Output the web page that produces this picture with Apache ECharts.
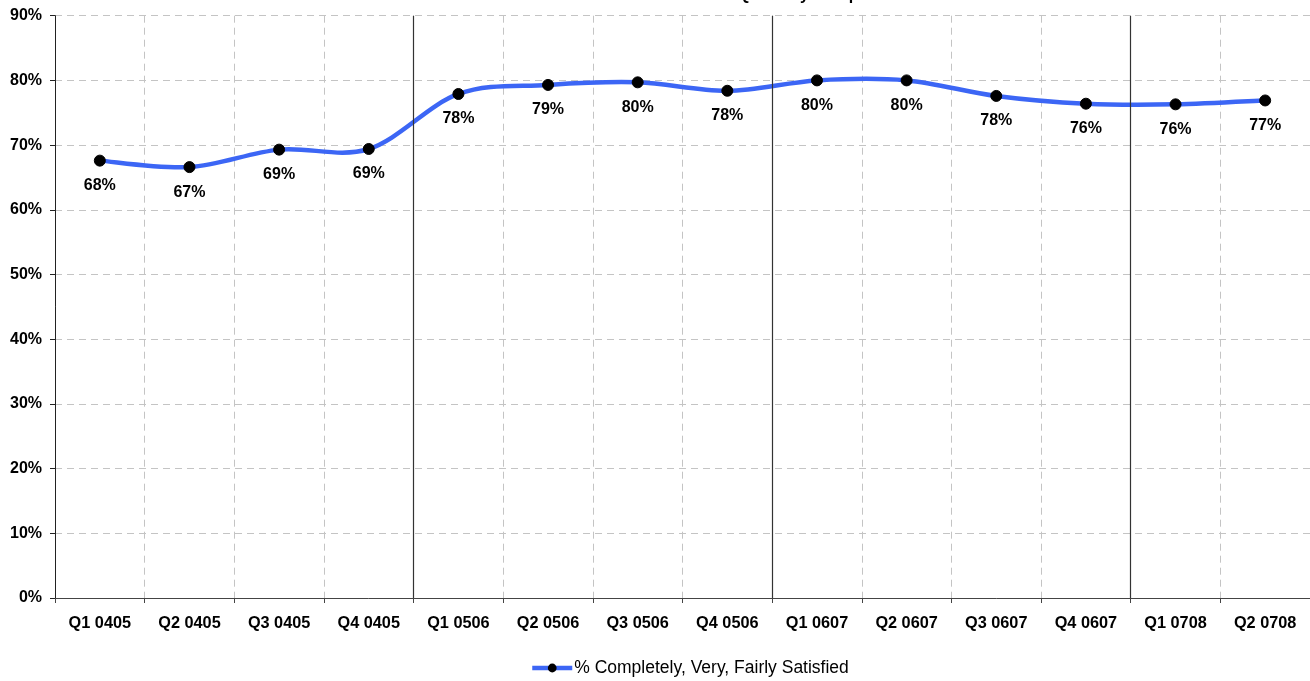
<!DOCTYPE html>
<html>
<head>
<meta charset="utf-8">
<script src="https://cdn.jsdelivr.net/npm/echarts@6/dist/echarts.min.js"></script>
<style>
html,body{margin:0;padding:0;background:#fff;}
#chart{width:1310px;height:681px;}
</style>
</head>
<body>
<div id="chart"></div>
<script>
var titleText = 'Overall Satisfaction with Service Provided - Quarterly Comparison';
var categories = ['Q1 0405','Q2 0405','Q3 0405','Q4 0405','Q1 0506','Q2 0506','Q3 0506','Q4 0506','Q1 0607','Q2 0607','Q3 0607','Q4 0607','Q1 0708','Q2 0708'];
var satisfied = [67.6, 66.6, 69.3, 69.4, 77.9, 79.3, 79.7, 78.4, 80.0, 80.0, 77.6, 76.4, 76.3, 76.9];
var seriesName = '% Completely, Very, Fairly Satisfied';
var yearDividers = [4, 8, 12];
var yTicks = [0, 10, 20, 30, 40, 50, 60, 70, 80, 90];

var chart = echarts.init(document.getElementById('chart'));
var font = 'Liberation Sans, Arial, sans-serif';
var blue = '#3c66f5';

function smoothPath(params, api) {
  if (params.dataIndex !== 0) return null;
  var pts = satisfied.map(function (v, i) { return api.coord([i, v]); });
  var n = pts.length;
  var d = 'M' + pts[0][0] + ' ' + pts[0][1];
  for (var i = 0; i < n - 1; i++) {
    var p0 = pts[Math.max(i - 1, 0)], p1 = pts[i], p2 = pts[i + 1], p3 = pts[Math.min(i + 2, n - 1)];
    var c1x = p1[0] + (p2[0] - p0[0]) / 6, c1y = p1[1] + (p2[1] - p0[1]) / 6;
    var c2x = p2[0] - (p3[0] - p1[0]) / 6, c2y = p2[1] - (p3[1] - p1[1]) / 6;
    d += ' C' + c1x + ' ' + c1y + ' ' + c2x + ' ' + c2y + ' ' + p2[0] + ' ' + p2[1];
  }
  return {
    type: 'path',
    shape: {pathData: d},
    style: {fill: 'none', stroke: blue, lineWidth: 4.5, lineJoin: 'round', lineCap: 'round'}
  };
}

chart.setOption({
  animation: false,
  title: {
    text: titleText,
    left: 'center',
    top: -17,
    textStyle: {fontFamily: font, fontSize: 16, fontWeight: 'bold', color: '#000'}
  },
  grid: {left: 55, right: 0, top: 15.7, bottom: 83},
  legend: {
    data: [seriesName],
    left: 530,
    top: 659,
    padding: 0,
    itemWidth: 40,
    itemHeight: 11,
    itemGap: 2,
    lineStyle: {color: blue, width: 4.5, opacity: 1},
    itemStyle: {color: '#000'},
    textStyle: {fontFamily: font, fontSize: 17.5, color: '#000', padding: [0,0,0,-3]}
  },
  xAxis: [{
    type: 'category',
    data: categories,
    boundaryGap: true,
    axisLine: {lineStyle: {color: '#444', width: 1}},
    axisTick: {show: true, length: 5, lineStyle: {color: '#444'}},
    axisLabel: {fontFamily: font, fontSize: 16.3, fontWeight: 'bold', color: '#000', margin: 18},
    splitLine: {show: true, lineStyle: {color: '#c4c4c4', type: [7, 5], width: 1}}
  }, {
    type: 'value',
    min: 0, max: 14,
    show: false
  }],
  yAxis: {
    type: 'value',
    min: 0, max: 90, interval: 10,
    axisLine: {show: true, lineStyle: {color: '#222', width: 1}},
    axisTick: {show: true, length: 5, lineStyle: {color: '#222'}},
    axisLabel: {fontFamily: font, fontSize: 16, fontWeight: 'bold', color: '#000', margin: 13,
      formatter: function (v) { return yTicks.indexOf(v) >= 0 ? v + '%' : ''; }},
    splitLine: {show: true, lineStyle: {color: '#c4c4c4', type: [7, 5], width: 1}}
  },
  series: [{
    name: 'dividers',
    type: 'line',
    xAxisIndex: 1,
    data: [],
    silent: true,
    markLine: {
      symbol: 'none',
      silent: true,
      label: {show: false},
      lineStyle: {color: '#333', type: 'solid', width: 1.2},
      data: yearDividers.map(function (d) { return {xAxis: d}; })
    }
  }, {
    name: 'curve',
    type: 'custom',
    silent: true,
    z: 3,
    data: satisfied.map(function (v, i) { return [i, v]; }),
    encode: {x: 0, y: 1},
    renderItem: smoothPath
  }, {
    name: seriesName,
    type: 'line',
    data: satisfied,
    symbol: 'circle',
    symbolSize: 11,
    z: 5,
    lineStyle: {color: blue, width: 0, opacity: 0},
    itemStyle: {color: '#000', borderColor: '#000'},
    label: {
      show: true,
      position: 'bottom',
      distance: 11,
      fontFamily: font, fontSize: 16, fontWeight: 'bold', color: '#000',
      formatter: function (p) { return Math.round(p.value) + '%'; }
    }
  }]
});
</script>
</body>
</html>
